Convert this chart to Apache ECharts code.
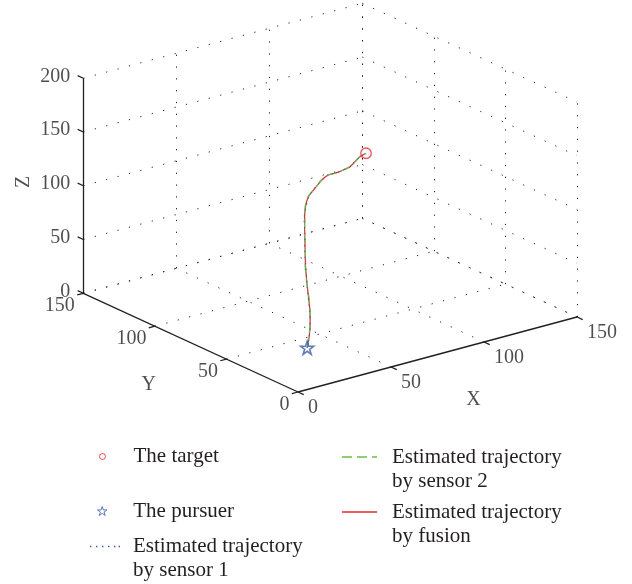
<!DOCTYPE html>
<html>
<head>
<meta charset="utf-8">
<script src="https://cdn.jsdelivr.net/npm/echarts@6/dist/echarts.min.js"></script>
<style>
  html, body { margin: 0; padding: 0; background: #ffffff; }
  #chart { width: 632px; height: 584px; }
</style>
</head>
<body>
<div id="chart"></div>
<script>
// ---- data -------------------------------------------------------------
const xTicks = [0, 50, 100, 150];
const yTicks = [0, 50, 100, 150];
const zTicks = [0, 50, 100, 150, 200];

const targetPoint = [88.2, 67.1, 140];
const pursuerPoint = [35.7, 40, 0];

const trackFusion = [
  [35.7, 40, 0], [36.6, 40, 8], [37.3, 40, 20], [37.2, 40, 33], [36.4, 40, 47],
  [35.5, 40, 62], [34.8, 40, 77], [34.6, 40, 92], [34.4, 40, 107], [34.3, 40, 120],
  [39.1, 45.6, 126], [44.5, 50.6, 130], [50.6, 53.9, 133], [57.0, 57.5, 135.5],
  [61.7, 59.1, 137], [66.3, 59.1, 137], [70.1, 59.5, 137.5], [74.4, 60.4, 138],
  [79.2, 63.1, 138.8], [84.0, 65.9, 139.5], [88.2, 67.1, 140]
];
const trackSensor1 = [
  [35.7, 40, 0], [36.8, 40.2, 8], [37.4, 40.1, 20], [37.0, 39.9, 33], [36.3, 40.1, 47],
  [35.6, 40.2, 62], [34.9, 39.9, 77], [34.5, 40.1, 92], [34.5, 40.0, 107], [34.2, 40.2, 120],
  [39.3, 45.5, 126], [44.7, 50.4, 130], [50.4, 54.1, 133], [57.2, 57.3, 135.5],
  [61.5, 59.3, 137], [66.5, 59.0, 137], [70.0, 59.7, 137.5], [74.6, 60.2, 138],
  [79.0, 63.3, 138.8], [84.2, 65.7, 139.5], [88.2, 67.1, 140]
];
const trackSensor2 = [
  [35.7, 40, 0], [36.5, 39.9, 8], [37.2, 40.1, 20], [37.3, 40.0, 33], [36.5, 39.8, 47],
  [35.4, 40.0, 62], [34.7, 40.1, 77], [34.7, 39.9, 92], [34.3, 40.1, 107], [34.4, 39.9, 120],
  [39.0, 45.7, 126], [44.4, 50.7, 130], [50.8, 53.8, 133], [56.9, 57.6, 135.5],
  [61.8, 59.0, 137], [66.2, 59.2, 137], [70.2, 59.4, 137.5], [74.3, 60.5, 138],
  [79.3, 63.0, 138.8], [83.9, 66.0, 139.5], [88.2, 67.1, 140]
];

// ---- oblique 3-D view -------------------------------------------------
// screen position of the origin and screen step per unit along X, Y, Z
const view = { ox: 298, oy: 392, ex: [1.86, -0.5], ey: [-1.431, -0.658], ez: [0, -1.075] };
function project(p) {
  return [
    view.ox + p[0] * view.ex[0] + p[1] * view.ey[0] + p[2] * view.ez[0],
    view.oy + p[0] * view.ex[1] + p[1] * view.ey[1] + p[2] * view.ez[1]
  ];
}
const xMax = xTicks[xTicks.length - 1];
const yMax = yTicks[yTicks.length - 1];
const zMax = zTicks[zTicks.length - 1];

// grid lines on the floor and the two back walls
const gridSegs = [];
xTicks.slice(1).forEach(v => gridSegs.push([[v, 0, 0], [v, yMax, 0]]));
yTicks.slice(1).forEach(v => gridSegs.push([[0, v, 0], [xMax, v, 0]]));
zTicks.forEach(v => gridSegs.push([[0, yMax, v], [xMax, yMax, v]]));
xTicks.slice(1).forEach(v => gridSegs.push([[v, yMax, 0], [v, yMax, zMax]]));
zTicks.forEach(v => gridSegs.push([[xMax, yMax, v], [xMax, 0, v]]));
yTicks.forEach(v => gridSegs.push([[xMax, v, 0], [xMax, v, zMax]]));

// solid axis lines and their tick marks
const axisSegs = [
  [[0, 0, 0], [xMax, 0, 0]],
  [[0, 0, 0], [0, yMax, 0]],
  [[0, yMax, 0], [0, yMax, zMax]]
];
const tickSegs = [];
xTicks.forEach(v => tickSegs.push([[v, 0, 0], [v, -4, 0]]));
yTicks.forEach(v => tickSegs.push([[0, v, 0], [-3.3, v, 0]]));
zTicks.forEach(v => tickSegs.push([[0, yMax, v], [0, yMax + 4, v]]));

const ink = '#231f20';
const serif = 'Liberation Serif';
const clear = 'rgba(0,0,0,0)';

function segData(list) {
  return list.map(s => ({ coords: [project(s[0]), project(s[1])] }));
}
function labelData(points, texts) {
  return points.map((p, i) => ({ value: project(p), name: String(texts[i]) }));
}
function labelSeries(data, align, offset, rotate) {
  return {
    type: 'scatter', data: data, symbolSize: 1, silent: true, z: 6,
    itemStyle: { color: clear },
    label: {
      show: true, position: 'inside', formatter: '{b}', align: align, verticalAlign: 'middle',
      offset: offset, rotate: rotate || 0,
      color: ink, fontFamily: serif, fontSize: 20
    }
  };
}

const starPath = 'path://M50,0 L61.2,34.5 L97.6,34.5 L68.2,55.9 L79.4,90.5 L50,69.1 L20.6,90.5 L31.8,55.9 L2.4,34.5 L38.8,34.5 Z';
const red = '#e8262a', green = '#6cbf4a', blue = '#3a5aa8';
const dashSensor2 = [10, 5], dotSensor1 = [1.5, 4.5];

// legend keys for the three line styles (dotted, dashed, solid)
const keyDotted = 'path://M0,0h1.4v1.4h-1.4z M6,0h1.4v1.4h-1.4z M12,0h1.4v1.4h-1.4z M18,0h1.4v1.4h-1.4z M24,0h1.4v1.4h-1.4z M28.6,0h1.4v1.4h-1.4z';
const keyDashed = 'path://M0,0h10v1.3h-10z M15,0h10v1.3h-10z M30,0h5v1.3h-5z';
const keySolid = 'path://M0,0h35v1.3h-35z';

const series = [
  { type: 'lines', coordinateSystem: 'cartesian2d', silent: true, z: 1, data: segData(gridSegs),
    lineStyle: { color: '#1e1e1e', width: 1, type: [1.2, 10.6], opacity: 1 } },
  { type: 'lines', coordinateSystem: 'cartesian2d', silent: true, z: 2, data: segData(axisSegs),
    lineStyle: { color: ink, width: 1.3, opacity: 1 } },
  { type: 'lines', coordinateSystem: 'cartesian2d', silent: true, z: 2, data: segData(tickSegs),
    lineStyle: { color: ink, width: 1.2, opacity: 1 } },
  { name: 'Estimated trajectory by fusion', type: 'line', z: 3, smooth: 0.3, symbol: 'none',
    data: trackFusion.map(project), lineStyle: { color: red, width: 1.2 }, itemStyle: { color: red } },
  { name: 'Estimated trajectory by sensor 2', type: 'line', z: 4, smooth: 0.3, symbol: 'none',
    data: trackSensor2.map(project), lineStyle: { color: green, width: 1.2, type: dashSensor2 }, itemStyle: { color: green } },
  { name: 'Estimated trajectory by sensor 1', type: 'line', z: 5, smooth: 0.3, symbol: 'none',
    data: trackSensor1.map(project), lineStyle: { color: blue, width: 1, type: dotSensor1 }, itemStyle: { color: blue } },
  { name: 'The target', type: 'scatter', z: 7, symbol: 'circle', symbolSize: 10.5,
    data: [project(targetPoint)],
    itemStyle: { color: clear, borderColor: red, borderWidth: 1.3 } },
  { name: 'The pursuer', type: 'scatter', z: 7, symbol: starPath, symbolSize: 13,
    data: [project(pursuerPoint)],
    itemStyle: { color: clear, borderColor: blue, borderWidth: 1.6 } },
  labelSeries(labelData(zTicks.map(v => [0, yMax, v]), zTicks), 'right', [-13, -2]),
  labelSeries(labelData(yTicks.map(v => [0, v, 0]), yTicks), 'right', [-8.5, 12.5]),
  labelSeries(labelData(xTicks.map(v => [v, 0, 0]), xTicks), 'left', [10, 16]),
  labelSeries(labelData([[0, yMax, zMax * 0.5]], ['Z']), 'center', [4, -60], 90),
  labelSeries(labelData([[0, yMax * 0.5, 0]], ['Y']), 'center', [-42, 42]),
  labelSeries(labelData([[xMax * 0.5, 0, 0]], ['X']), 'center', [36, 45])
];

function legendItem(name, left, top, w, h, pad, icon, markerStyle) {
  return {
    data: [{ name: name, icon: icon }], left: left, top: top, padding: 0, itemWidth: w, itemHeight: h,
    selectedMode: false, orient: 'vertical',
    formatter: n => (n.indexOf(' by ') > 0 ? '\n' + n.replace(' by ', '\nby ') : n),
    textStyle: { color: ink, fontFamily: serif, fontSize: 21, lineHeight: 24, padding: [0, 0, 0, pad] },
    itemStyle: markerStyle
  };
}

const option = {
  animation: false,
  backgroundColor: '#ffffff',
  grid: { left: 0, right: 0, top: 0, bottom: 0 },
  xAxis: { type: 'value', min: 0, max: 632, show: false },
  yAxis: { type: 'value', min: 0, max: 584, inverse: true, show: false },
  legend: [
    legendItem('The target', 99, 444.5, 30, 6, 11, 'circle',
      { color: clear, borderColor: red, borderWidth: 1 }),
    legendItem('The pursuer', 97, 499, 30, 9, 11, starPath,
      { color: clear, borderColor: blue, borderWidth: 1 }),
    legendItem('Estimated trajectory by sensor 1', 90, 510.5, 30, 1.4, 8, keyDotted,
      { color: blue, borderWidth: 0 }),
    legendItem('Estimated trajectory by sensor 2', 342, 421, 35, 1.3, 10, keyDashed,
      { color: green, borderWidth: 0 }),
    legendItem('Estimated trajectory by fusion', 342, 476, 35, 1.3, 10, keySolid,
      { color: red, borderWidth: 0 })
  ],
  series: series
};

const chart = echarts.init(document.getElementById('chart'), null, { renderer: 'canvas' });
chart.setOption(option);
</script>
</body>
</html>
